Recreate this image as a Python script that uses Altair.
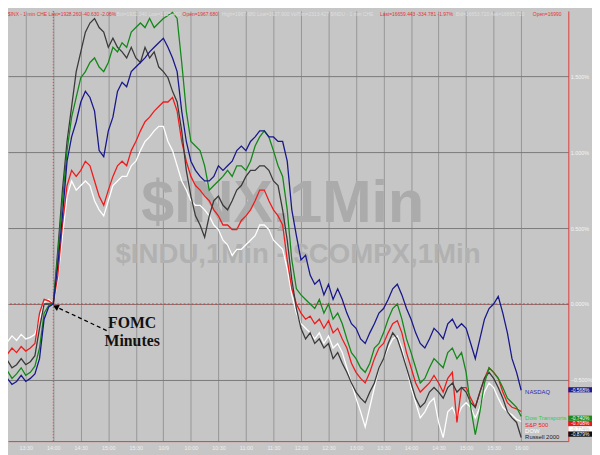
import altair as alt
import pandas as pd

# ---------------- data (percent change vs. the 14:00 print, 5-minute samples) ----------------
minutes = list(range(0, 575, 5))  # session minutes from 13:00 on 10/8 (180 = 10/9 open)

russell_2000 = [
    -0.39, -0.41, -0.37, -0.42, -0.40, -0.36, -0.40, -0.38, -0.34, -0.16,
    0.00, 0.00, 0.00, 0.36, 0.75, 1.07, 1.30, 1.53, 1.66, 1.79,
    1.85, 1.88, 1.82, 1.79, 1.69, 1.75, 1.69, 1.66, 1.62, 1.69,
    1.62, 1.59, 1.69, 1.62, 1.66, 1.56, 1.53, 1.49, 1.40, 1.33,
    1.14, 0.88, 0.71, 0.58, 0.52, 0.44, 0.58, 0.68, 0.71, 0.65,
    0.62, 0.68, 0.75, 0.78, 0.84, 0.88, 0.88, 0.91, 0.91, 0.88,
    0.81, 0.78, 0.62, 0.42, 0.16, -0.03, -0.16, -0.23, -0.19, -0.26,
    -0.23, -0.29, -0.26, -0.36, -0.32, -0.39, -0.45, -0.52, -0.58, -0.62,
    -0.65, -0.58, -0.52, -0.42, -0.36, -0.26, -0.19, -0.23, -0.32, -0.42,
    -0.52, -0.62, -0.68, -0.65, -0.58, -0.55, -0.58, -0.62, -0.55, -0.52,
    -0.58, -0.55, -0.58, -0.65, -0.68, -0.58, -0.49, -0.45, -0.49, -0.55,
    -0.62, -0.71, -0.75, -0.78, -0.879,
]

dow_transports = [
    -0.45, -0.47, -0.44, -0.49, -0.46, -0.42, -0.47, -0.45, -0.41, -0.29,
    -0.06, -0.01, 0.00, 0.32, 0.68, 1.01, 1.23, 1.36, 1.49, 1.53,
    1.59, 1.62, 1.56, 1.53, 1.59, 1.69, 1.66, 1.72, 1.69, 1.79,
    1.82, 1.85, 1.82, 1.88, 1.82, 1.85, 1.88, 1.90, 1.92, 1.88,
    1.59, 1.27, 1.07, 1.04, 1.01, 0.91, 0.75, 0.78, 0.81, 0.84,
    0.88, 0.84, 0.91, 0.91, 0.88, 0.94, 1.04, 1.10, 1.14, 1.10,
    1.01, 0.91, 0.84, 0.62, 0.29, 0.10, 0.06, 0.03, 0.00, -0.03,
    0.03, -0.06, 0.00, -0.10, -0.06, -0.13, -0.23, -0.32, -0.36, -0.42,
    -0.45, -0.39, -0.29, -0.26, -0.19, -0.10, -0.03, 0.00, -0.10, -0.23,
    -0.32, -0.42, -0.52, -0.49, -0.42, -0.36, -0.39, -0.42, -0.32, -0.29,
    -0.36, -0.32, -0.45, -0.68, -0.86, -0.71, -0.52, -0.42, -0.45, -0.49,
    -0.55, -0.62, -0.65, -0.68, -0.740,
]

nasdaq = [
    -0.50, -0.51, -0.49, -0.53, -0.51, -0.47, -0.51, -0.49, -0.46, -0.36,
    -0.10, -0.02, 0.00, 0.26, 0.58, 0.94, 1.10, 1.20, 1.33, 1.40,
    1.36, 1.27, 1.01, 0.97, 1.14, 1.23, 1.40, 1.46, 1.43, 1.53,
    1.56, 1.59, 1.62, 1.66, 1.69, 1.72, 1.75, 1.69, 1.62, 1.53,
    1.27, 1.07, 0.94, 0.88, 0.84, 0.81, 0.81, 0.84, 0.91, 0.88,
    0.91, 0.94, 1.01, 1.04, 1.01, 1.07, 1.10, 1.14, 1.14, 1.10,
    1.10, 1.07, 1.07, 0.94, 0.62, 0.45, 0.29, 0.32, 0.19, 0.13,
    0.16, 0.06, 0.13, 0.03, 0.10, 0.03, -0.06, -0.13, -0.16, -0.23,
    -0.26, -0.19, -0.13, -0.06, -0.03, 0.03, 0.10, 0.13, 0.06, -0.03,
    -0.10, -0.19, -0.26, -0.29, -0.23, -0.16, -0.19, -0.23, -0.13, -0.10,
    -0.16, -0.13, -0.16, -0.26, -0.36, -0.23, -0.10, -0.03, 0.00, 0.05,
    -0.06, -0.19, -0.36, -0.45, -0.568,
]

sp_500 = [
    -0.32, -0.31, -0.33, -0.29, -0.32, -0.28, -0.31, -0.29, -0.26, -0.06,
    0.03, 0.02, 0.00, 0.19, 0.52, 0.78, 0.88, 0.84, 0.88, 0.94,
    0.91, 0.81, 0.71, 0.65, 0.75, 0.84, 0.91, 0.94, 0.91, 1.01,
    1.07, 1.14, 1.20, 1.23, 1.27, 1.30, 1.33, 1.33, 1.36, 1.27,
    1.07, 0.94, 0.84, 0.78, 0.75, 0.71, 0.68, 0.62, 0.58, 0.52,
    0.52, 0.49, 0.49, 0.55, 0.58, 0.62, 0.68, 0.75, 0.75, 0.68,
    0.62, 0.58, 0.52, 0.29, 0.10, 0.00, -0.06, -0.10, -0.08, -0.13,
    -0.10, -0.16, -0.11, -0.19, -0.16, -0.23, -0.29, -0.39, -0.45, -0.49,
    -0.52, -0.45, -0.36, -0.29, -0.26, -0.19, -0.13, -0.11, -0.19, -0.32,
    -0.42, -0.52, -0.58, -0.55, -0.52, -0.47, -0.52, -0.58, -0.49, -0.45,
    -0.78, -0.55, -0.55, -0.62, -0.68, -0.58, -0.49, -0.42, -0.45, -0.49,
    -0.58, -0.65, -0.68, -0.69, -0.708,
]

dow = [
    -0.26, -0.23, -0.25, -0.21, -0.24, -0.20, -0.23, -0.22, -0.20, -0.10,
    0.01, 0.03, 0.00, 0.16, 0.45, 0.71, 0.81, 0.75, 0.78, 0.81,
    0.78, 0.68, 0.62, 0.58, 0.68, 0.78, 0.81, 0.84, 0.84, 0.91,
    0.94, 1.01, 1.07, 1.10, 1.14, 1.17, 1.17, 1.07, 1.01, 0.91,
    0.81, 0.75, 0.68, 0.65, 0.65, 0.62, 0.58, 0.52, 0.49, 0.42,
    0.39, 0.32, 0.36, 0.36, 0.39, 0.42, 0.45, 0.52, 0.52, 0.49,
    0.42, 0.39, 0.36, 0.23, 0.06, -0.06, -0.13, -0.16, -0.19, -0.23,
    -0.19, -0.26, -0.21, -0.29, -0.26, -0.32, -0.42, -0.52, -0.62, -0.71,
    -0.81, -0.68, -0.55, -0.42, -0.36, -0.29, -0.23, -0.21, -0.29, -0.42,
    -0.55, -0.65, -0.75, -0.71, -0.65, -0.62, -0.78, -0.88, -0.71, -0.68,
    -0.75, -0.68, -0.65, -0.68, -0.75, -0.68, -0.58, -0.52, -0.55, -0.62,
    -0.68, -0.71, -0.73, -0.76, -0.774,
]

# drawing order (first = bottom)
series_names = ["DOW", "S&P 500", "Russell 2000", "Dow Transports", "NASDAQ"]
series_values = [dow, sp_500, russell_2000, dow_transports, nasdaq]
series_colors = ["#ffffff", "#f01c1c", "#3a3a3a", "#14881a", "#18188a"]
label_colors = ["#ffffff", "#f01c1c", "#1a1a1a", "#3cc83c", "#2a2ab0"]
box_colors = ["#ffffff", "#e01c1c", "#101010", "#1a8a1a", "#1c1c8c"]
box_text_colors = ["#c8c8c8", "#ffffff", "#ffffff", "#ffffff", "#ffffff"]

tick_minutes = [30, 60, 90, 120, 150, 180, 210, 240, 270, 300,
                330, 360, 390, 420, 450, 480, 510, 540, 570]
tick_labels = ["13:30", "14:00", "14:30", "15:00", "15:30", "10/9", "10:00", "10:30", "11:00", "11:30",
               "12:00", "12:30", "13:00", "13:30", "14:00", "14:30", "15:00", "15:30", "16:00"]
pct_ticks = [-0.5, 0.0, 0.5, 1.0, 1.5]
fomc_minute = 60

header_parts = [
    ("$INX - 1 min CHE Last=1928.260 -40.630 -2.06%", "#e8323c"),
    ("Bid=1932.340 Low=1925.460", "#dedede"),
    ("Open=1967.680", "#e8323c"),
    ("High=1967.680 Low=1927.900 VolTim=2313.427 $INDU - 1 min CHE", "#dedede"),
    ("Last=16659.443 -334.781 -1.97%", "#e8323c"),
    ("Bid=16653.720 Ask=16665.720", "#dedede"),
    ("Open=16990", "#e8323c"),
]
header_x = [0, 110, 177, 217, 377, 454, 532]

for v in series_values:
    assert len(v) == len(minutes)

# ---------------- scales / layout ----------------
W, H = 568, 436
X_DOM = [10.65, 621.4]
Y_DOM = [-0.903, 1.929]
xs = alt.Scale(domain=X_DOM, nice=False, zero=False)
ys = alt.Scale(domain=Y_DOM, nice=False, zero=False)
FONT = "Liberation Sans, Arial, sans-serif"

label_expr = "".join(f"datum.value == {t} ? '{l}' : " for t, l in zip(tick_minutes, tick_labels)) + "''"

x_axis = alt.Axis(values=tick_minutes, labelExpr=label_expr, grid=True, gridColor="#969696",
                  gridWidth=1, ticks=False, domain=True, domainColor="#e23a3a", domainWidth=1,
                  labelColor="#efefef", labelFontSize=5.5, labelFont=FONT, labelPadding=4,
                  labelFlush=False, labelOverlap=False, title=None)
y_axis = alt.Axis(orient="right", values=pct_ticks, labelExpr="format(datum.value, '.3f') + '%'",
                  grid=True, gridColor="#7a7a7a", gridWidth=1, ticks=False, domain=True,
                  domainColor="#e23a3a", domainWidth=1, labelColor="#f4f4f4", labelFontSize=5.5,
                  labelFont=FONT, labelPadding=2, labelAlign="left", title=None)


def X(field):
    return alt.X(field, scale=xs, axis=x_axis)


def Y(field):
    return alt.Y(field, scale=ys, axis=y_axis)


layers = []

# watermarks
wm = pd.DataFrame({"t": [310.1, 326.8], "pct": [0.539, 0.273],
                   "txt": ["$INX,1Min", "$INDU,1Min - $COMPX,1Min"]})
layers.append(alt.Chart(wm.iloc[[0]]).mark_text(fontSize=60, fontWeight="bold", font=FONT,
                                                color="#ababab", baseline="alphabetic", align="center")
              .encode(x=X("t:Q"), y=Y("pct:Q"), text="txt:N"))
layers.append(alt.Chart(wm.iloc[[1]]).mark_text(fontSize=28, fontWeight="bold", font=FONT,
                                                color="#b1b1b1", baseline="alphabetic", align="center")
              .encode(x=X("t:Q"), y=Y("pct:Q"), text="txt:N"))

# red reference lines
layers.append(alt.Chart(pd.DataFrame({"pct": [0.0]})).mark_rule(color="#e03838", strokeDash=[2, 2], strokeWidth=1)
              .encode(y=Y("pct:Q")))
layers.append(alt.Chart(pd.DataFrame({"t": [fomc_minute]})).mark_rule(color="#e03838", strokeDash=[1, 2], strokeWidth=1)
              .encode(x=X("t:Q")))

# series lines
for name, vals, col in zip(series_names, series_values, series_colors):
    d = pd.DataFrame({"t": minutes, "pct": vals})
    layers.append(alt.Chart(d).mark_line(color=col, strokeWidth=1.3, clip=True)
                  .encode(x=X("t:Q"), y=Y("pct:Q")))

# FOMC annotation
arrow = pd.DataFrame({"t": [118.2], "pct": [-0.175], "t2": [65.5], "pct2": [-0.026]})
layers.append(alt.Chart(arrow).mark_rule(color="#000000", strokeDash=[4, 3], strokeWidth=1.3)
              .encode(x=X("t:Q"), y=Y("pct:Q"), x2="t2:Q", y2="pct2:Q"))
head = pd.DataFrame({"t": [63.6], "pct": [-0.021]})
layers.append(alt.Chart(head).mark_point(shape="triangle", filled=True, color="#000000", size=45,
                                         angle=295, opacity=1)
              .encode(x=X("t:Q"), y=Y("pct:Q")))
fomc_txt = pd.DataFrame({"t": [146.0, 146.0], "pct": [-0.123, -0.243], "txt": ["FOMC", "Minutes"]})
layers.append(alt.Chart(fomc_txt).mark_text(font="Liberation Serif, Times New Roman, serif", fontSize=16,
                                            fontWeight="bold", color="#111111", baseline="middle", align="center")
              .encode(x=X("t:Q"), y=Y("pct:Q"), text="txt:N"))

# end-of-line labels and value boxes (NASDAQ at its own value, the others stacked from the bottom)
last_t = minutes[-1]
stack = ["Russell 2000", "DOW", "S&P 500", "Dow Transports"]
lab_rows, box_rows = [], []
for name, vals, lc, bc, tc in zip(series_names, series_values, label_colors, box_colors, box_text_colors):
    if name == "NASDAQ":
        ly, by = vals[-1] - 0.01, vals[-1] + 0.003
    else:
        k = stack.index(name)
        ly = Y_DOM[0] + 0.025 + 0.042 * k
        by = Y_DOM[0] + 0.046 + 0.035 * k
    lab_rows.append({"t": last_t, "pct": ly, "txt": name, "col": lc})
    box_rows.append({"pct": by, "top": by + 0.017, "bot": by - 0.017,
                     "txt": format(vals[-1], ".3f") + "%", "col": bc, "tcol": tc})
labs = pd.DataFrame(lab_rows)
boxes = pd.DataFrame(box_rows)
layers.append(alt.Chart(labs).mark_text(font=FONT, fontSize=6, align="left", baseline="middle", dx=4)
              .encode(x=X("t:Q"), y=Y("pct:Q"), text="txt:N", color=alt.Color("col:N", scale=None)))
layers.append(alt.Chart(boxes).mark_rect()
              .encode(x=alt.value(W), x2=alt.value(W + 24), y=Y("top:Q"), y2="bot:Q",
                      color=alt.Color("col:N", scale=None)))
layers.append(alt.Chart(boxes).mark_text(font=FONT, fontSize=5, align="center", baseline="middle")
              .encode(x=alt.value(W + 12), y=Y("pct:Q"), text="txt:N", color=alt.Color("tcol:N", scale=None)))

# header line
for (txt, col), hx in zip(header_parts, header_x):
    layers.append(alt.Chart(pd.DataFrame({"a": [0]})).mark_text(text=txt, color=col, font=FONT, fontSize=5,
                                                                align="left", baseline="middle")
                  .encode(x=alt.value(hx), y=alt.value(3)))

chart = alt.layer(*layers).properties(
    width=W, height=H,
    padding={"left": 0, "top": 0, "right": 24, "bottom": 11},
    autosize=alt.AutoSizeParams(type="none"),
    background="#c6c6c6",
).configure_view(stroke=None)

chart.save("out.html", embed_options={"renderer": "svg", "actions": False})
